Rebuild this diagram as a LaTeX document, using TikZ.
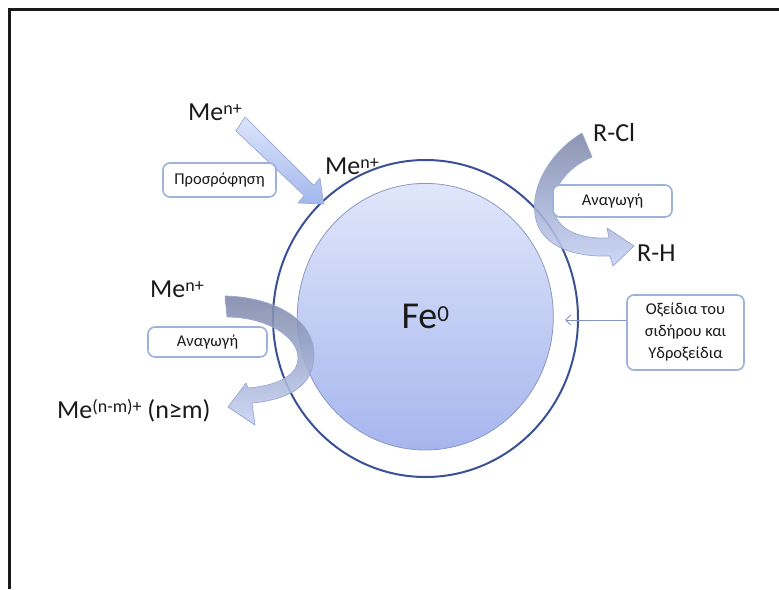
\documentclass[tikz,border=0pt]{standalone}
\usepackage{fontspec}
\setmainfont{Carlito}
\usetikzlibrary{shapes.geometric,arrows.meta}
\definecolor{txt}{HTML}{1A1A1A}
\definecolor{shellc}{HTML}{3B5196}
\definecolor{coretop}{HTML}{E0E6FA}
\definecolor{corebot}{HTML}{A6B6EE}
\definecolor{coreline}{HTML}{8A98C2}
\definecolor{boxc}{HTML}{9DB2DA}
\definecolor{arrline}{HTML}{9AA8D2}
\definecolor{arrdark}{HTML}{7C87A8}
\definecolor{arrlight}{HTML}{C6D2F6}
\definecolor{strlight}{HTML}{DDE5FB}
\definecolor{strdark}{HTML}{A3B7EE}
\definecolor{oxline}{HTML}{8394C4}
\newcommand\supr[1]{\raisebox{5.5pt}{\fontsize{18}{18}\selectfont #1}}
\begin{document}
\begin{tikzpicture}[x=1pt,y=-1pt,
  lbl/.style={anchor=base west, inner sep=0pt, text=txt, font=\fontsize{26}{31}\selectfont},
  tbox/.style={draw=boxc, line width=1.6pt, rounded corners=7pt, fill=white, text=txt,
    font=\fontsize{16.5}{22}\selectfont, inner sep=0pt, align=center},
  blockarrow/.style={draw=arrline, line width=0.7pt, line join=round},
  frame/.style={draw=black!90, line width=2.2pt, line join=miter}]
\useasboundingbox (0,0) rectangle (779,589);
\draw[frame] (779,9.5) -- (9.5,9.5) -- (9.5,589);

% shell and core
\node[ellipse, draw=shellc, line width=2pt, inner sep=0pt,
      minimum width=305pt, minimum height=317pt] (shell) at (425.5,318.5) {};
\node[ellipse, draw=coreline, line width=0.8pt, top color=coretop, bottom color=corebot,
      inner sep=0pt, minimum width=256pt, minimum height=266.6pt, text=txt,
      font=\fontsize{38}{44}\selectfont] (fe) at (425.3,316.7)
      {Fe\raisebox{7pt}{\fontsize{23}{23}\selectfont 0}};

% straight adsorption arrow
\path[blockarrow, top color=strlight, bottom color=strdark]
  (245,117) -- (313.8,185.4) -- (320,178) -- (323.6,204) -- (298,203)
  -- (304.2,195.6) -- (236,131) -- cycle;

% curved arrow R-Cl -> R-H
\path[blockarrow, top color=arrdark, bottom color=arrlight, fill opacity=0.88]
  (582,133) .. controls (546,155) and (526,195) .. (538,226)
  .. controls (549,250) and (580,257) .. (610,256)
  -- (613,266) -- (634,246) -- (607,228) -- (609,238)
  .. controls (582,239) and (560,232) .. (554,212)
  .. controls (550,190) and (566,168) .. (592,157) -- cycle;

% curved arrow Me(n+) -> Me(n-m)+
\path[blockarrow, top color=arrdark, bottom color=arrlight, fill opacity=0.88]
  (225,296) .. controls (272,297) and (314,318) .. (314,355)
  .. controls (314,388) and (285,400) .. (252,403)
  -- (255,425) -- (228,407) -- (246,383) -- (248,388)
  .. controls (274,386) and (298,377) .. (298,358)
  .. controls (298,336) and (265,317) .. (227,317) -- cycle;

% labels
\node[lbl] (men1) at (188,120) {Me\supr{n+}};
\node[lbl] (men2) at (325,174) {Me\supr{n+}};
\node[lbl] (men3) at (150,297) {Me\supr{n+}};
\node[lbl] (menm) at (57,418) {Me\supr{(n-m)+} (n≥m)};
\node[lbl] (rcl) at (593,141) {R-Cl};
\node[lbl] (rh) at (637,261) {R-H};

% boxes
\node[tbox, minimum width=113pt, minimum height=34pt] (ads) at (219.5,180) {Προσρόφηση};
\node[tbox, minimum width=119pt, minimum height=32pt] (red1) at (612.5,201) {Αναγωγή};
\node[tbox, minimum width=119pt, minimum height=30pt] (red2) at (207.5,342) {Αναγωγή};
\node[tbox, minimum width=117pt, minimum height=75pt] (ox) at (685.5,332.5)
  {Οξείδια του\\σιδήρου και\\Υδροξείδια};

\coordinate (oxtip) at (565,320);
\draw[oxline, line width=0.9pt, -{Straight Barb[length=5pt,width=10pt]}] (ox.west |- oxtip) -- (oxtip);
\end{tikzpicture}
\end{document}
